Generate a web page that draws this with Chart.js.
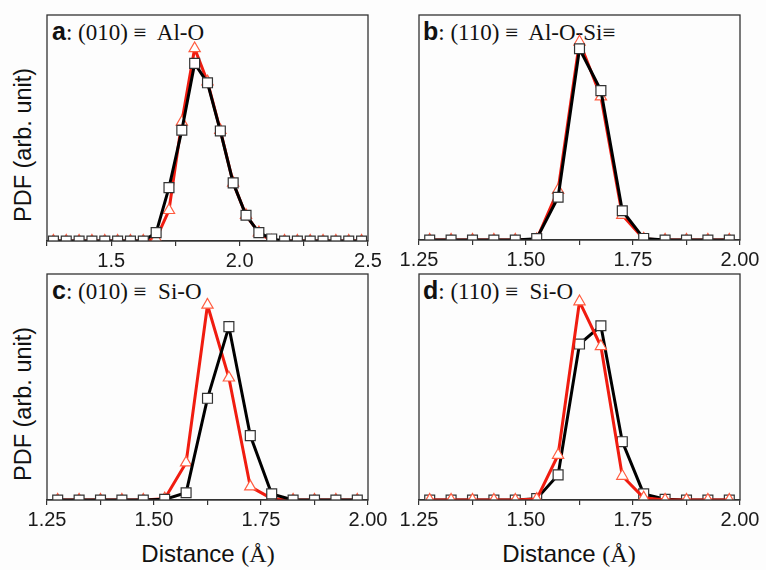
<!DOCTYPE html>
<html><head><meta charset="utf-8">
<script src="https://cdn.jsdelivr.net/npm/chart.js@4"></script>
<style>
html,body{margin:0;padding:0;background:#fdfdfd;}
body{width:766px;height:570px;position:relative;overflow:hidden;}
canvas{position:absolute;}
.t{position:absolute;white-space:pre;line-height:1;color:#111;}
.t b{font-family:"Liberation Sans",Arial,sans-serif;font-size:25px;font-weight:bold;}
.t span{font-family:"Liberation Serif","Times New Roman",serif;font-size:23px;}
.yl{position:absolute;white-space:pre;font-family:"Liberation Sans",Arial,sans-serif;font-size:23.5px;line-height:1;color:#111;transform-origin:0 0;}
.xl{position:absolute;white-space:pre;font-family:"Liberation Sans",Arial,sans-serif;font-size:24px;line-height:1;color:#111;transform:translateX(-50%);}
.xl span{font-family:"Liberation Serif","Times New Roman",serif;}
</style></head>
<body>
<div class="t" style="left:52px;top:19px"><b>a</b><span>: (010) ≡  Al-O</span></div>
<div class="t" style="left:423px;top:19px"><b>b</b><span>: (110) ≡  Al-O-Si≡</span></div>
<div class="t" style="left:52px;top:278px"><b>c</b><span>: (010) ≡  Si-O</span></div>
<div class="t" style="left:423px;top:278px"><b>d</b><span>: (110) ≡  Si-O</span></div>
<div class="yl" style="left:12px;top:222px;transform:rotate(-90deg)">PDF (arb. unit)</div>
<div class="yl" style="left:12px;top:481px;transform:rotate(-90deg)">PDF (arb. unit)</div>
<div class="xl" style="left:208px;top:542px">Distance <span>(Å)</span></div>
<div class="xl" style="left:569px;top:542px">Distance <span>(Å)</span></div>
<canvas id="ca"></canvas><canvas id="cb"></canvas><canvas id="cc"></canvas><canvas id="cd"></canvas>
<script>
// bin centres (Å)
const xWide = [1.275,1.325,1.375,1.425,1.475,1.525,1.575,1.625,1.675,1.725,1.775,1.825,1.875,1.925,1.975,2.025,2.075,2.125,2.175,2.225,2.275,2.325,2.375,2.425,2.475];
const xNarrow = [1.275,1.325,1.375,1.425,1.475,1.525,1.575,1.625,1.675,1.725,1.775,1.825,1.875,1.925,1.975];
// panel a: (010) Al-O
const aBlack = [0,0,0,0,0,0,0,0,0.037,0.236,0.49,0.786,0.70,0.487,0.257,0.114,0.037,0.009,0,0,0,0,0,0,0];
const aRed   = [0,0,0,0,0,0,0,0,0.01,0.136,0.527,0.852,0.705,0.49,0.257,0.114,0.037,0,0,0,0,0,0,0,0];
// panel b: (110) Al-O-Si
const bBlack = [0,0,0,0,0,0.006,0.19,0.85,0.664,0.13,0.007,0,0,0,0];
const bRed   = [0,0,0,0,0,0.003,0.222,0.881,0.637,0.111,0.005,0,0,0,0];
// panel c: (010) Si-O
const cBlack = [0,0,0,0,0,0.003,0.032,0.45,0.767,0.285,0.027,0,0,0,0];
const cRed   = [0,0,0,0,0,0.006,0.165,0.863,0.541,0.059,0.006,0,0,0,0];
// panel d: (110) Si-O
const dBlack = [0,0,0,0,0,0.006,0.111,0.69,0.771,0.258,0.027,0.003,0,0,0];
const dRed   = [0,0,0,0,0,0.004,0.199,0.878,0.68,0.106,0.01,0,0,0,0];
// tick settings
const wideTicks = {min:1.25, max:2.5, step:0.25};
const narrowTicks = {min:1.25, max:2.0, step:0.125};

const frame = {id:'frame', afterDatasetsDraw(chart){
  const a = chart.chartArea, c = chart.ctx;
  c.save(); c.strokeStyle='#333'; c.lineWidth=1.3;
  c.strokeRect(a.left, a.top, a.right-a.left, a.bottom-a.top); c.restore();
}};

function pts(xs, ys){ return xs.map((x,i)=>({x:x, y:ys[i]})); }

function make(id, box, xs, blk, red, tk, redOnTop, labelFn){
  const PADX=30, PADT=10, XH=40;
  const cv = document.getElementById(id);
  const w = box.R-box.L+2*PADX, h = box.B-box.T+PADT+XH;
  cv.width=w; cv.height=h; cv.style.width=w+'px'; cv.style.height=h+'px';
  cv.style.left=(box.L-PADX)+'px'; cv.style.top=(box.T-PADT)+'px';
  const black = {data:pts(xs,blk), borderColor:'#000', borderWidth:3, pointStyle:'rect', pointRadius:7, pointBorderColor:'#333', pointBackgroundColor:'#fff', pointBorderWidth:1.2, clip:0, order: redOnTop?2:1};
  const r = {data:pts(xs,red), borderColor:'#f01c10', borderWidth:3, pointStyle:'triangle', pointRadius:6.5, pointBorderColor:'#ff5c40', pointBackgroundColor:'#fff', pointBorderWidth:1.2, clip:0, order: redOnTop?1:2};
  new Chart(cv, {
    type:'line',
    data:{datasets:[black, r]},
    options:{
      responsive:false, animation:false, devicePixelRatio:1,
      layout:{padding:{left:PADX,right:PADX,top:PADT,bottom:0}},
      plugins:{legend:{display:false}, tooltip:{enabled:false}},
      elements:{line:{tension:0}},
      scales:{
        x:{type:'linear', min:tk.min, max:tk.max,
           afterFit(s){ s.height = XH; },
           afterBuildTicks(s){ const t=[]; for(let v=tk.min; v<=tk.max+1e-9; v+=tk.step) t.push({value:v}); s.ticks=t; },
           ticks:{autoSkip:false, maxRotation:0, padding:3, color:'#1a1a1a',
                  font:{family:'"Liberation Sans Narrow","Liberation Sans",Arial,sans-serif', size:20},
                  callback:labelFn},
           grid:{drawOnChartArea:false, drawTicks:true, tickLength:5, color:'#333', lineWidth:1.2},
           border:{display:true, color:'#333', width:1.3}},
        y:{display:false, min:0, max:1}
      }
    },
    plugins:[frame]
  });
}
const wideLabel = v => (Math.abs(v*2-Math.round(v*2))<1e-9 && v>1.3) ? v.toFixed(1) : '';
const narrowLabel = v => (Math.abs(v*4-Math.round(v*4))<1e-9) ? v.toFixed(2) : '';

make('ca', {L:47,R:368,T:15,B:241}, xWide, aBlack, aRed, wideTicks, false, wideLabel);
make('cb', {L:419,R:740,T:15,B:240}, xNarrow, bBlack, bRed, narrowTicks, false, narrowLabel);
make('cc', {L:47,R:368,T:274,B:500}, xNarrow, cBlack, cRed, narrowTicks, false, narrowLabel);
make('cd', {L:419,R:740,T:274,B:500}, xNarrow, dBlack, dRed, narrowTicks, true, narrowLabel);
</script>
</body></html>
